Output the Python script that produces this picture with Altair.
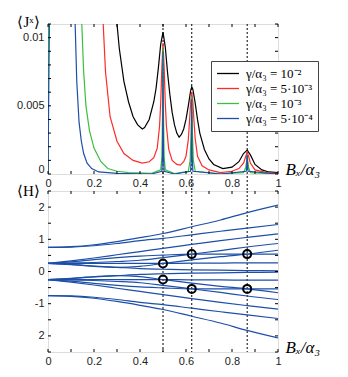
import altair as alt
import pandas as pd

# ---------------- top panel data: <J^x> vs B_x/alpha_3 ----------------
series_labels = ["γ/α₃ = 10⁻²", "γ/α₃ = 5·10⁻³", "γ/α₃ = 10⁻³", "γ/α₃ = 5·10⁻⁴"]
series_colors = ["#000000", "#ff2a2a", "#3cbf3c", "#1d4fa8"]

black_B = [0.0, 0.01, 0.30, 0.31, 0.33, 0.35, 0.37, 0.39, 0.41, 0.42, 0.44, 0.46, 0.47, 0.48, 0.49, 0.50,
           0.51, 0.52, 0.53, 0.54, 0.55, 0.56, 0.57, 0.58, 0.59, 0.60, 0.61, 0.62, 0.625, 0.63, 0.64, 0.65,
           0.66, 0.68, 0.70, 0.72, 0.76, 0.80, 0.83, 0.85, 0.866, 0.88, 0.90, 0.93, 0.96, 1.0]
black_J = [0.0, 0.05, 0.0110, 0.0092, 0.0068, 0.0053, 0.0042, 0.0036, 0.0033, 0.0034, 0.0040, 0.0053, 0.0063,
           0.0078, 0.0095, 0.0104, 0.0093, 0.0074, 0.0058, 0.0045, 0.0036, 0.0030, 0.0027, 0.0029, 0.0033,
           0.0040, 0.0050, 0.0061, 0.0064, 0.0062, 0.0052, 0.0040, 0.0030, 0.0018, 0.0011, 0.0007, 0.0004,
           0.0005, 0.0009, 0.0015, 0.00175, 0.0014, 0.0007, 0.0003, 0.00015, 0.0001]

red_B = [0.0, 0.01, 0.24, 0.25, 0.27, 0.30, 0.33, 0.37, 0.41, 0.44, 0.46, 0.475, 0.485, 0.49, 0.495, 0.50,
         0.505, 0.51, 0.515, 0.525, 0.54, 0.56, 0.575, 0.59, 0.60, 0.61, 0.615, 0.62, 0.625, 0.63, 0.635,
         0.64, 0.65, 0.67, 0.70, 0.75, 0.80, 0.83, 0.85, 0.86, 0.866, 0.872, 0.88, 0.90, 0.95, 1.0]
red_J = [0.0, 0.05, 0.0110, 0.0075, 0.0042, 0.0024, 0.0015, 0.0010, 0.0008, 0.0009, 0.0012, 0.0019, 0.0035,
         0.0052, 0.0078, 0.0096, 0.0078, 0.0052, 0.0035, 0.0018, 0.0010, 0.0007, 0.00065, 0.0009, 0.0013,
         0.0025, 0.0038, 0.0052, 0.0060, 0.0052, 0.0038, 0.0026, 0.0013, 0.0006, 0.0003, 0.0001, 0.0002,
         0.0004, 0.0008, 0.0013, 0.0016, 0.0013, 0.0008, 0.0003, 0.0001, 0.00005]

green_B = [0.0, 0.01, 0.147, 0.155, 0.165, 0.18, 0.20, 0.23, 0.26, 0.30, 0.35, 0.45, 0.49, 0.495, 0.498,
           0.50, 0.502, 0.505, 0.51, 0.55, 0.61, 0.618, 0.622, 0.625, 0.628, 0.632, 0.64, 0.75, 0.85, 0.86,
           0.864, 0.866, 0.868, 0.872, 0.88, 1.0]
green_J = [0.0, 0.05, 0.0110, 0.0075, 0.0050, 0.0032, 0.0019, 0.0009, 0.0004, 0.0002, 0.0001, 0.00005,
           0.0003, 0.0012, 0.0045, 0.0093, 0.0045, 0.0012, 0.0003, 0.00003, 0.0002, 0.0010, 0.0030, 0.0057,
           0.0030, 0.0010, 0.0002, 0.00002, 0.0001, 0.0005, 0.0010, 0.0014, 0.0010, 0.0005, 0.0001, 0.0]

blue_B = [0.0, 0.006, 0.01, 0.118, 0.125, 0.135, 0.145, 0.155, 0.17, 0.19, 0.22, 0.30, 0.45, 0.495, 0.498,
          0.499, 0.50, 0.501, 0.502, 0.505, 0.55, 0.62, 0.623, 0.624, 0.625, 0.626, 0.627, 0.63, 0.75,
          0.862, 0.864, 0.865, 0.866, 0.867, 0.868, 0.87, 1.0]
blue_J = [0.0, 0.011, 0.05, 0.0110, 0.0068, 0.0038, 0.0024, 0.0015, 0.0008, 0.0004, 0.00015, 0.00005, 0.0,
          0.0002, 0.0012, 0.0040, 0.0090, 0.0040, 0.0012, 0.0002, 0.0, 0.0002, 0.0012, 0.0028, 0.0055,
          0.0028, 0.0012, 0.0002, 0.0, 0.0002, 0.0006, 0.0010, 0.0014, 0.0010, 0.0006, 0.0002, 0.0]

# ---------------- bottom panel data: <H> levels vs B_x/alpha_3 ----------------
H_B = [0.0, 0.1, 0.2, 0.3, 0.4, 0.5, 0.625, 0.75, 0.866, 1.0]
H_upper = [
    [0.75, 0.77, 0.83, 0.93, 1.05, 1.18, 1.39, 1.60, 1.83, 2.06],
    [0.75, 0.76, 0.80, 0.87, 0.96, 1.03, 1.14, 1.25, 1.35, 1.46],
    [0.25, 0.33, 0.42, 0.52, 0.62, 0.72, 0.84, 0.96, 1.06, 1.17],
    [0.25, 0.30, 0.37, 0.43, 0.48, 0.51, 0.54, 0.54, 0.54, 0.54],
    [0.25, 0.26, 0.28, 0.31, 0.35, 0.43, 0.54, 0.65, 0.76, 0.87],
    [0.25, 0.25, 0.25, 0.25, 0.25, 0.25, 0.26, 0.26, 0.27, 0.27],
    [0.25, 0.21, 0.16, 0.13, 0.16, 0.25, 0.36, 0.46, 0.54, 0.66],
    [0.25, 0.22, 0.17, 0.13, 0.09, 0.07, 0.05, 0.04, 0.03, 0.02],
]
H_lower = [[-v for v in row] for row in H_upper]

circle_B = [0.5, 0.5, 0.625, 0.625, 0.866, 0.866]
circle_H = [0.25, -0.25, 0.54, -0.54, 0.54, -0.54]

resonance_B = [0.5, 0.625, 0.866]

x_major = [0, 0.2, 0.4, 0.6, 0.8, 1.0]
x_minor = [i / 10 for i in range(11)]
j_minor = [i / 1000 for i in range(12)]
h_minor = [-2.5 + 0.5 * i for i in range(11)]

# ---------------- build tables ----------------
rows = []
for lab, bb, jj in zip(series_labels, [black_B, red_B, green_B, blue_B], [black_J, red_J, green_J, blue_J]):
    for i, (b, j) in enumerate(zip(bb, jj)):
        rows.append({"series": lab, "B": b, "J": j, "i": i})
top_df = pd.DataFrame(rows)

hrows = []
for k, row in enumerate(H_upper + H_lower):
    for i, (b, h) in enumerate(zip(H_B, row)):
        hrows.append({"line": k, "B": b, "H": h, "i": i})
h_df = pd.DataFrame(hrows)
circ_df = pd.DataFrame({"B": circle_B, "H": circle_H})
res_df = pd.DataFrame({"B": resonance_B})
xminor_df = pd.DataFrame({"B": x_minor})
jminor_df = pd.DataFrame({"J": j_minor})
hminor_df = pd.DataFrame({"H": h_minor})

W, HT, HB, GAP = 230, 150, 161, 17
LABEL_FONT = "Liberation Sans"
MATH_FONT = "Liberation Serif"

xscale = alt.Scale(domain=[0, 1], nice=False, zero=False)
jscale = alt.Scale(domain=[0, 0.011], nice=False)
hscale = alt.Scale(domain=[-2.5, 2.5], nice=False)


def x_axis():
    return alt.Axis(values=x_major, format="~g", tickSize=0, labelPadding=3, domain=False, grid=False,
                    labelFont=LABEL_FONT, labelFontSize=11, labelColor="#222", labelFlush=False,
                    title="Bₓ/α₃", titleFont=MATH_FONT, titleFontStyle="italic", titleFontWeight="normal",
                    titleFontSize=17, titleAngle=0, titleAlign="left", titleBaseline="alphabetic",
                    titleX=W + 7, titleY=0, titleColor="#000")


def ticks(yfield, yscale, height, ydata):
    layers = []
    layers.append(alt.Chart(xminor_df).mark_rule(color="#000", strokeWidth=1).encode(
        x=alt.X("B:Q", scale=xscale), y=alt.value(0), y2=alt.value(3)))
    layers.append(alt.Chart(xminor_df).mark_rule(color="#000", strokeWidth=1).encode(
        x=alt.X("B:Q", scale=xscale), y=alt.value(height), y2=alt.value(height - 3)))
    layers.append(alt.Chart(ydata).mark_rule(color="#000", strokeWidth=1).encode(
        y=alt.Y(f"{yfield}:Q", scale=yscale), x=alt.value(0), x2=alt.value(3)))
    layers.append(alt.Chart(ydata).mark_rule(color="#000", strokeWidth=1).encode(
        y=alt.Y(f"{yfield}:Q", scale=yscale), x=alt.value(W), x2=alt.value(W - 3)))
    return layers


# ---------------- top chart ----------------
top_lines = alt.Chart(top_df).mark_line(strokeWidth=1.2, clip=True).encode(
    x=alt.X("B:Q", scale=xscale, axis=x_axis()),
    y=alt.Y("J:Q", scale=jscale, axis=alt.Axis(
        values=[0, 0.005, 0.01], format="~g", tickSize=0, labelPadding=4, domain=False, grid=False,
        labelFont=LABEL_FONT, labelFontSize=11, labelColor="#222", labelFlush=True,
        title="⟨Jˣ⟩", titleFont=MATH_FONT, titleFontWeight="normal", titleFontSize=15, titleAngle=0,
        titleAlign="center", titleBaseline="middle", titleX=-20, titleY=-3, titleColor="#000")),
    color=alt.Color("series:N", scale=alt.Scale(domain=series_labels, range=series_colors),
                    sort=series_labels,
                    legend=alt.Legend(title=None, orient="none", legendX=163, legendY=37,
                                      symbolType="stroke", symbolSize=484, symbolStrokeWidth=1.3,
                                      clipHeight=15, labelFont=MATH_FONT, labelFontSize=13,
                                      labelColor="#000", labelOffset=6, strokeColor="#444",
                                      fillColor="#fff", padding=5, rowPadding=0,
                                      labelLimit=200)),
    order=alt.Order("i:Q"),
)
top_res = alt.Chart(res_df).mark_rule(color="#000", strokeDash=[2, 2], strokeWidth=1).encode(
    x=alt.X("B:Q", scale=xscale), y=alt.value(0), y2=alt.value(HT + GAP))

top = alt.layer(top_res, top_lines, *ticks("J", jscale, HT, jminor_df)).properties(
    width=W, height=HT)

# ---------------- bottom chart ----------------
bot_lines = alt.Chart(h_df).mark_line(strokeWidth=1.2, color="#1d4fa8", clip=True, interpolate="monotone").encode(
    x=alt.X("B:Q", scale=xscale, axis=x_axis()),
    y=alt.Y("H:Q", scale=hscale, axis=alt.Axis(
        values=[-2, -1, 0, 1, 2], tickSize=0, labelPadding=4, domain=False, grid=False,
        labelExpr="datum.value == -2 ? '2' : (datum.value == -1 ? '-1' : datum.label)",
        labelFont=LABEL_FONT, labelFontSize=11, labelColor="#222", labelFlush=False,
        title="⟨H⟩", titleFont=MATH_FONT, titleFontWeight="normal", titleFontSize=15, titleAngle=0,
        titleAlign="center", titleBaseline="middle", titleX=-20, titleY=-1, titleColor="#000")),
    detail="line:N",
    order=alt.Order("i:Q"),
)
bot_res = alt.Chart(res_df).mark_rule(color="#000", strokeDash=[2, 2], strokeWidth=1).encode(
    x=alt.X("B:Q", scale=xscale), y=alt.value(0), y2=alt.value(HB))
bot_circ = alt.Chart(circ_df).mark_point(shape="circle", size=64, filled=False, color="#000",
                                         strokeWidth=2, opacity=1).encode(
    x=alt.X("B:Q", scale=xscale), y=alt.Y("H:Q", scale=hscale))

bottom = alt.layer(bot_res, bot_lines, bot_circ, *ticks("H", hscale, HB, hminor_df)).properties(
    width=W, height=HB)

chart = alt.vconcat(top, bottom, spacing=GAP, bounds="flush").resolve_scale(color="independent").configure_view(
    stroke="#000", strokeWidth=1).configure(padding={"left": 7, "top": 5, "right": 5, "bottom": 5})

chart.save("out.html", embed_options={"renderer": "svg", "actions": False})
